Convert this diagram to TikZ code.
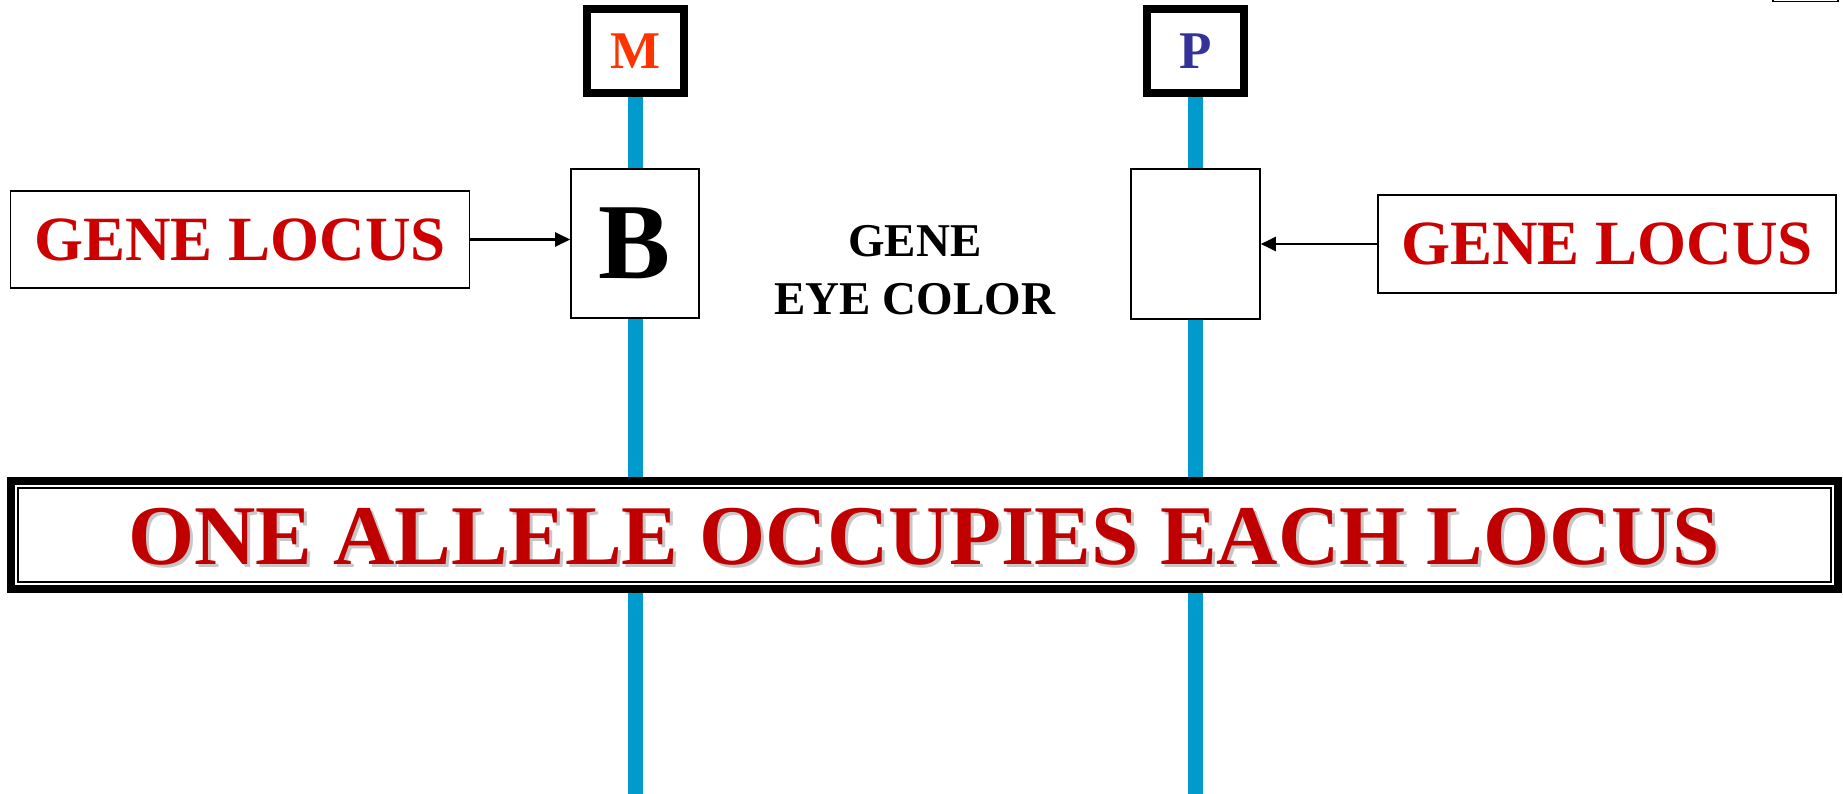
\documentclass[tikz,border=0pt]{standalone}
\usepackage{fontspec}
\setmainfont{Liberation Serif}
\usetikzlibrary{arrows.meta}
\definecolor{chromblue}{RGB}{0,155,204}
\definecolor{locusred}{RGB}{204,0,0}
\definecolor{bannerred}{RGB}{192,0,0}
\definecolor{mred}{RGB}{255,51,0}
\definecolor{pblue}{RGB}{51,51,153}
\tikzset{
  chrom/.style={draw=chromblue, line width=15pt},
  labelbox/.style={draw=black, line width=8pt, fill=white, minimum width=97pt, minimum height=84pt, inner sep=0pt, font=\fontsize{53}{60}\selectfont\bfseries},
  allelebox/.style={draw=black, line width=1.6pt, fill=white, inner sep=0pt},
  locusbox/.style={draw=black, line width=1.8pt, fill=white, minimum width=459pt, minimum height=97pt, inner sep=0pt, text=locusred, font=\fontsize{63}{70}\selectfont\bfseries},
  pointer/.style={line width=2.4pt, -{Triangle[length=15pt,width=14pt]}},
  bannertxt/.style={inner sep=0pt, font=\fontsize{85}{95}\selectfont\bfseries},
}
\begin{document}
\begin{tikzpicture}[x=1pt,y=-1pt]
\useasboundingbox (0,0) rectangle (1843,794);
% chromosomes
\coordinate (mtop) at (635.5,95);
\coordinate (mbot) at (635.5,794);
\coordinate (ptop) at (1195.5,95);
\coordinate (pbot) at (1195.5,794);
\draw[chrom] (mtop) -- (mbot);
\draw[chrom] (ptop) -- (pbot);
% parent labels
\node[labelbox, text=mred] (mlabel) at (635.5,51) {M};
\node[labelbox, text=pblue] (plabel) at (1195.5,51) {P};
% allele boxes
\node[allelebox, minimum width=128pt, minimum height=149pt, font=\fontsize{108}{115}\selectfont\bfseries] (bbox) at (635,243.5) {B};
\node[allelebox, minimum width=129pt, minimum height=150pt] (pbox) at (1195.5,244) {};
% gene text
\node[align=center, inner sep=0pt, font=\fontsize{47}{58}\selectfont\bfseries] (gene) at (915,270) {GENE\\EYE COLOR};
% gene locus boxes
\node[locusbox] (lgl) at (240,239.5) {GENE LOCUS};
\node[locusbox, minimum width=458pt, minimum height=98pt] (rgl) at (1607,244) {GENE LOCUS};
\draw[pointer] (lgl.east) -- (lgl.east -| bbox.west);
\draw[pointer] (rgl.west) -- (rgl.west -| pbox.east);
% banner
\node[draw=black, line width=8pt, fill=white, outer sep=0pt, inner sep=0pt, minimum width=1827pt, minimum height=108pt] (banner) at (924.5,535) {};
\draw[line width=2pt] ([shift={(7,7)}]banner.north west) rectangle ([shift={(-7,-7)}]banner.south east);
\node[bannertxt, text=black!22] (bannershadow) at (927,540) {ONE ALLELE OCCUPIES EACH LOCUS};
\node[bannertxt, text=bannerred] (bannertext) at (924,537) {ONE ALLELE OCCUPIES EACH LOCUS};
% corner fragment
\draw[line width=1.5pt] (1773,-5) rectangle (1838,1.5);
\end{tikzpicture}
\end{document}
